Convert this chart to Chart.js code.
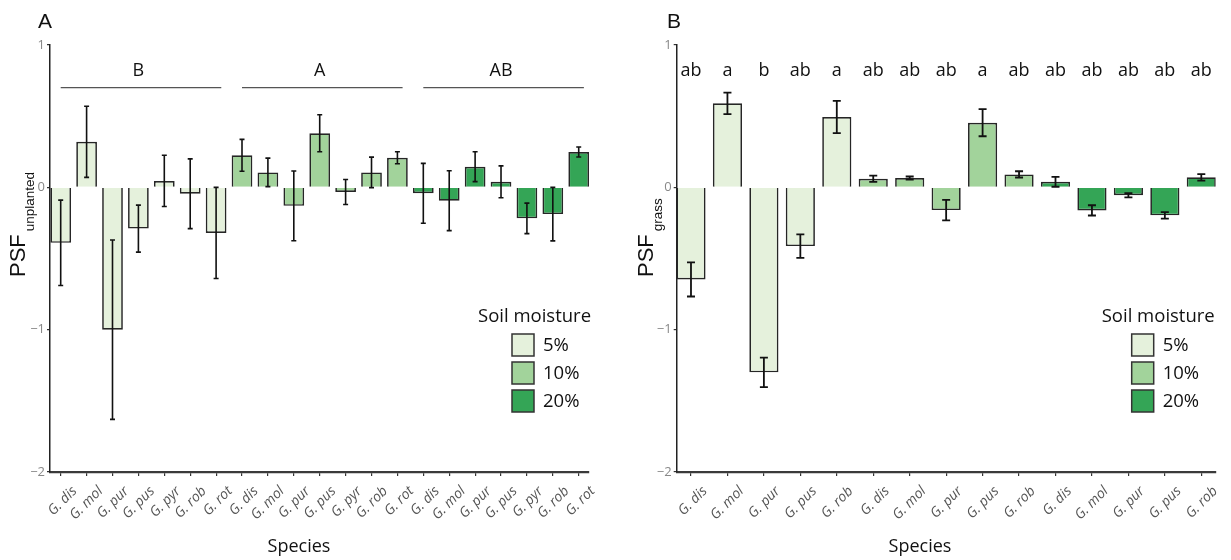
<!DOCTYPE html>
<html><head><meta charset="utf-8">
<script src="https://cdn.jsdelivr.net/npm/chart.js@4.4.1/dist/chart.umd.min.js"></script>
<style>
html,body{margin:0;padding:0;background:#fff;}
#wrap{position:relative;width:1231px;height:560px;overflow:hidden;}
.panel{position:absolute;top:0;height:560px;}
canvas{display:block;}
</style></head><body>
<div id="wrap">
<div class="panel" style="left:0;width:615px"><canvas id="cA" width="615" height="560"></canvas></div>
<div class="panel" style="left:615px;width:616px"><canvas id="cB" width="616" height="560"></canvas></div>
</div>
<script>
// ---------- data ----------
const moistureLevels = ['5%', '10%', '20%'];
const moistureColors = ['#e5f1dc', '#a2d39b', '#34a556'];

const speciesA = ['G. dis', 'G. mol', 'G. pur', 'G. pus', 'G. pyr', 'G. rob', 'G. rot'];
const psfUnplanted5  = [-0.39, 0.32, -1.00, -0.29, 0.045, -0.045, -0.32];
const errUnplanted5  = [0.30, 0.25, 0.63, 0.165, 0.18, 0.245, 0.32];
const psfUnplanted10 = [0.225, 0.105, -0.13, 0.38, -0.033, 0.105, 0.208];
const errUnplanted10 = [0.112, 0.10, 0.245, 0.13, 0.088, 0.107, 0.042];
const psfUnplanted20 = [-0.042, -0.094, 0.145, 0.039, -0.218, -0.188, 0.248];
const errUnplanted20 = [0.21, 0.21, 0.105, 0.112, 0.107, 0.188, 0.035];
const groupLettersA = ['B', 'A', 'AB'];

const speciesB = ['G. dis', 'G. mol', 'G. pur', 'G. pus', 'G. rob'];
const psfGrass5  = [-0.647, 0.59, -1.30, -0.413, 0.494];
const errGrass5  = [0.12, 0.075, 0.103, 0.082, 0.113];
const psfGrass10 = [0.06, 0.065, -0.16, 0.454, 0.091];
const errGrass10 = [0.022, 0.011, 0.072, 0.095, 0.022];
const psfGrass20 = [0.039, -0.162, -0.056, -0.197, 0.07];
const errGrass20 = [0.035, 0.036, 0.015, 0.023, 0.023];
const lettersB = ['ab', 'a', 'b', 'ab', 'a', 'ab', 'ab', 'ab', 'a', 'ab', 'ab', 'ab', 'ab', 'ab', 'ab'];

const yTicks = [1, 0, -1, -2];

// ---------- helpers ----------
const FONT = '"Open Sans", "DejaVu Sans", sans-serif';
const ARIAL = '"Liberation Sans", Arial, sans-serif';

function buildDatasets(species, vals, errs) {
  const n = species.length;
  return moistureLevels.map((lvl, k) => ({
    label: lvl,
    data: vals[k].map((v, j) => ({ x: k * n + j, y: v })),
    errors: errs[k],
    backgroundColor: moistureColors[k],
    borderColor: '#262626',
    borderWidth: 1.7,
    grouped: false,
    barPercentage: 0.8,
    categoryPercentage: 1.0
  }));
}

const errorBarPlugin = {
  id: 'errorBars',
  afterDatasetsDraw(chart) {
    const ctx = chart.ctx, y = chart.scales.y, o = chart.options.plugins.panel;
    ctx.save();
    ctx.strokeStyle = '#111';
    ctx.lineWidth = o.errWidth;
    chart.data.datasets.forEach((ds, i) => {
      const meta = chart.getDatasetMeta(i);
      meta.data.forEach((bar, j) => {
        const v = ds.data[j].y, e = ds.errors[j];
        const x = bar.x, yt = y.getPixelForValue(v + e), yb = y.getPixelForValue(v - e);
        ctx.beginPath();
        ctx.moveTo(x, yt); ctx.lineTo(x, yb);
        ctx.moveTo(x - o.cap, yt); ctx.lineTo(x + o.cap, yt);
        ctx.moveTo(x - o.cap, yb); ctx.lineTo(x + o.cap, yb);
        ctx.stroke();
      });
    });
    ctx.restore();
  }
};

const panelPlugin = {
  id: 'panel',
  afterDraw(chart) {
    const ctx = chart.ctx, o = chart.options.plugins.panel;
    const xs = chart.scales.x, ys = chart.scales.y, ca = chart.chartArea;
    ctx.save();
    ctx.fillStyle = '#111';
    // panel letter
    ctx.font = '21px ' + ARIAL;
    ctx.textAlign = 'left'; ctx.textBaseline = 'alphabetic';
    ctx.fillText(o.letter, o.letterX, 28);
    // y title
    ctx.save();
    ctx.translate(o.yTitleX, 277);
    ctx.rotate(-Math.PI / 2);
    ctx.font = '22px ' + ARIAL;
    ctx.fillText('PSF', 0, 0);
    const w = ctx.measureText('PSF').width;
    ctx.font = '13.5px ' + ARIAL;
    ctx.fillText(o.sub, w + 3, 9);
    ctx.restore();
    // x title
    ctx.font = '18px ' + FONT;
    ctx.textAlign = 'center'; ctx.textBaseline = 'middle';
    ctx.fillText('Species', o.xTitleX, 547);
    // legend
    ctx.font = '18.5px ' + FONT;
    ctx.textAlign = 'left';
    ctx.fillText('Soil moisture', ca.right + o.legTitleDx, 317);
    chart.data.datasets.forEach((ds, k) => {
      const bx = ca.right + o.legBoxDx, by = 334 + k * 28;
      ctx.fillStyle = ds.backgroundColor;
      ctx.fillRect(bx, by, 22, 22);
      ctx.strokeStyle = '#333'; ctx.lineWidth = 1.5;
      ctx.strokeRect(bx, by, 22, 22);
      ctx.fillStyle = '#111';
      ctx.fillText(ds.label, bx + 31, by + 12);
    });
    // group labels / letters
    ctx.font = '18px ' + FONT;
    ctx.textAlign = 'center'; ctx.textBaseline = 'alphabetic';
    if (o.groups) {
      const n = o.groupSize;
      o.groups.forEach((g, k) => {
        const x0 = xs.getPixelForValue(k * n), x1 = xs.getPixelForValue(k * n + n - 1 + 0.2);
        const yl = ys.getPixelForValue(0.70);
        ctx.strokeStyle = '#555'; ctx.lineWidth = 1.2;
        ctx.beginPath(); ctx.moveTo(x0, yl); ctx.lineTo(x1, yl); ctx.stroke();
        ctx.fillText(g, xs.getPixelForValue(k * n + (n - 1) / 2), ys.getPixelForValue(0.78));
      });
    }
    if (o.letters) {
      o.letters.forEach((t, i) => {
        ctx.fillText(t, xs.getPixelForValue(i), ys.getPixelForValue(0.78));
      });
    }
    ctx.restore();
  }
};

function makeChart(id, species, vals, errs, cfg) {
  const labels = [];
  moistureLevels.forEach(() => species.forEach(s => labels.push(s)));
  const W = document.getElementById(id).width;
  return new Chart(document.getElementById(id), {
    type: 'bar',
    data: { datasets: buildDatasets(species, vals, errs) },
    options: {
      responsive: false,
      animation: false,
      layout: { padding: { top: 45, left: 0, right: W - cfg.right, bottom: 0 } },
      plugins: {
        legend: { display: false },
        tooltip: { enabled: false },
        panel: cfg.panel
      },
      scales: {
        x: {
          type: 'linear',
          min: cfg.xMin, max: cfg.xMax,
          bounds: 'data',
          offset: false,
          afterBuildTicks: s => { s.ticks = labels.map((_, i) => ({ value: i })); },
          afterFit: s => { s.height = 560 - 472; },
          grid: { drawOnChartArea: false, offset: false, color: '#333', lineWidth: 1.2, tickLength: 4 },
          border: { color: '#3a3a3a', width: 2.2 },
          ticks: {
            autoSkip: false, minRotation: 45, maxRotation: 45,
            labelOffset: cfg.labelOffset, padding: 7,
            color: '#555',
            font: { family: FONT, size: 14, style: 'italic' },
            callback: v => labels[v]
          }
        },
        y: {
          min: -2, max: 1,
          afterBuildTicks: s => { s.ticks = yTicks.map(v => ({ value: v })); },
          afterFit: s => { s.width = cfg.left; },
          grid: { drawOnChartArea: false, color: '#333', lineWidth: 1.2, tickLength: 3 },
          border: { color: '#222', width: 1.5 },
          ticks: {
            padding: 2, color: '#888',
            font: { family: FONT, size: 13 },
            callback: v => v < 0 ? '\u2212' + Math.abs(v) : String(v)
          }
        }
      }
    },
    plugins: [errorBarPlugin, panelPlugin]
  });
}

makeChart('cA', speciesA,
  [psfUnplanted5, psfUnplanted10, psfUnplanted20],
  [errUnplanted5, errUnplanted10, errUnplanted20],
  {
    left: 50, right: 589, xMin: -0.413, xMax: 20.397, labelOffset: 14,
    panel: {
      letter: 'A', letterX: 38, yTitleX: 25, sub: 'unplanted', xTitleX: 299,
      legTitleDx: -111, legBoxDx: -77, groups: groupLettersA, groupSize: 7,
      cap: 2.5, errWidth: 1.6
    }
  });

makeChart('cB', speciesB,
  [psfGrass5, psfGrass10, psfGrass20],
  [errGrass5, errGrass10, errGrass20],
  {
    left: 61.7, right: 600.7, xMin: -0.392, xMax: 14.395, labelOffset: 14,
    panel: {
      letter: 'B', letterX: 52, yTitleX: 38, sub: 'grass', xTitleX: 305,
      legTitleDx: -114, legBoxDx: -84, letters: lettersB,
      cap: 4, errWidth: 1.8
    }
  });
</script>
</body></html>
